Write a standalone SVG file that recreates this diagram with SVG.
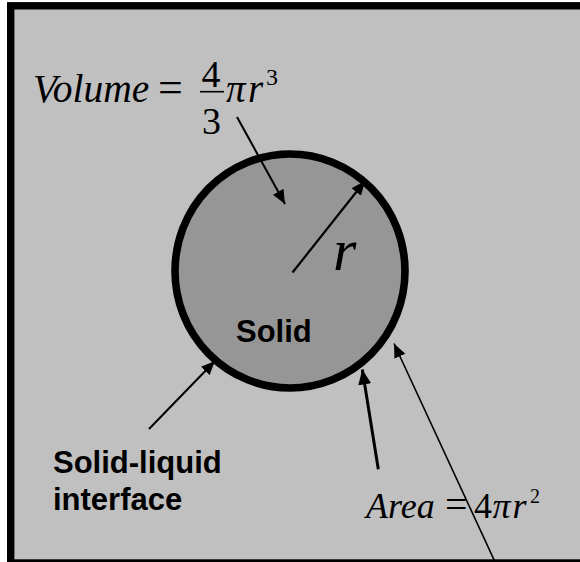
<svg xmlns="http://www.w3.org/2000/svg" width="580" height="562" viewBox="0 0 580 562">
  <style>
    .math { font-family: "Liberation Serif", "Times New Roman", serif; fill: #000; }
    .it { font-style: italic; }
    .lbl { font-family: "Liberation Sans", Arial, sans-serif; font-weight: bold; font-size: 31px; fill: #000; }
    .conn { stroke: #000; fill: none; }
  </style>
  <defs>
    <marker id="ah" markerUnits="userSpaceOnUse" markerWidth="16" markerHeight="14" refX="14" refY="6" orient="auto">
      <path d="M0,0 L14,6 L0,12 Z" fill="#000"/>
    </marker>
    <marker id="ahBig" markerUnits="userSpaceOnUse" markerWidth="18" markerHeight="16" refX="15" refY="6.5" orient="auto">
      <path d="M0,0 L15,6.5 L0,13 Z" fill="#000"/>
    </marker>
  </defs>
  <rect width="580" height="562" fill="#ffffff"/>
  <g id="frame">
    <rect x="10.7" y="5.8" width="600" height="557.2" fill="#c0c0c0" stroke="#000" stroke-width="7.4"/>
  </g>
  <g id="solid">
    <ellipse cx="290" cy="271" rx="115" ry="117" fill="#969696" stroke="#000" stroke-width="7.6"/>
    <text class="lbl" x="236" y="341.5">Solid</text>
  </g>
  <g id="volume-label">
    <text class="math it" x="33" y="101.7" font-size="39.5">Volume</text>
    <text class="math" x="158" y="101.7" font-size="44">=</text>
    <text class="math" x="201.5" y="86.7" font-size="38">4</text>
    <line x1="200" y1="91.7" x2="224" y2="91.7" stroke="#000" stroke-width="1.6"/>
    <text class="math" x="202" y="133.5" font-size="38">3</text>
    <text class="math it" x="226" y="101.7" font-size="39">π</text>
    <text class="math it" x="248" y="101.7" font-size="39">r</text>
    <text class="math" x="266" y="85" font-size="24">3</text>
  </g>
  <g id="radius-label">
    <text class="math it" x="333" y="270" font-size="60">r</text>
  </g>
  <g id="interface-label">
    <text class="lbl" x="53" y="472.7">Solid-liquid</text>
    <text class="lbl" x="53" y="510">interface</text>
  </g>
  <g id="area-label">
    <text class="math it" x="366" y="517.7" font-size="36">Area</text>
    <text class="math" x="445" y="517.7" font-size="40">=</text>
    <text class="math" x="474" y="517.7" font-size="36">4</text>
    <text class="math it" x="492.5" y="517.7" font-size="36">π</text>
    <text class="math it" x="512.5" y="517.7" font-size="36">r</text>
    <text class="math" x="530" y="503" font-size="20">2</text>
  </g>
  <g id="connectors">
    <line class="conn" x1="292.5" y1="272.5" x2="365" y2="181" stroke-width="2.2" marker-end="url(#ah)"/>
    <line class="conn" x1="237" y1="117" x2="285" y2="204" stroke-width="2" marker-end="url(#ah)"/>
    <line class="conn" x1="149" y1="429" x2="215" y2="361" stroke-width="2" marker-end="url(#ah)"/>
    <line class="conn" x1="378.3" y1="469.3" x2="362.3" y2="369.5" stroke-width="3" marker-end="url(#ahBig)"/>
    <line class="conn" x1="496" y1="564" x2="394" y2="343.5" stroke-width="1.6" marker-end="url(#ah)"/>
  </g>
</svg>
